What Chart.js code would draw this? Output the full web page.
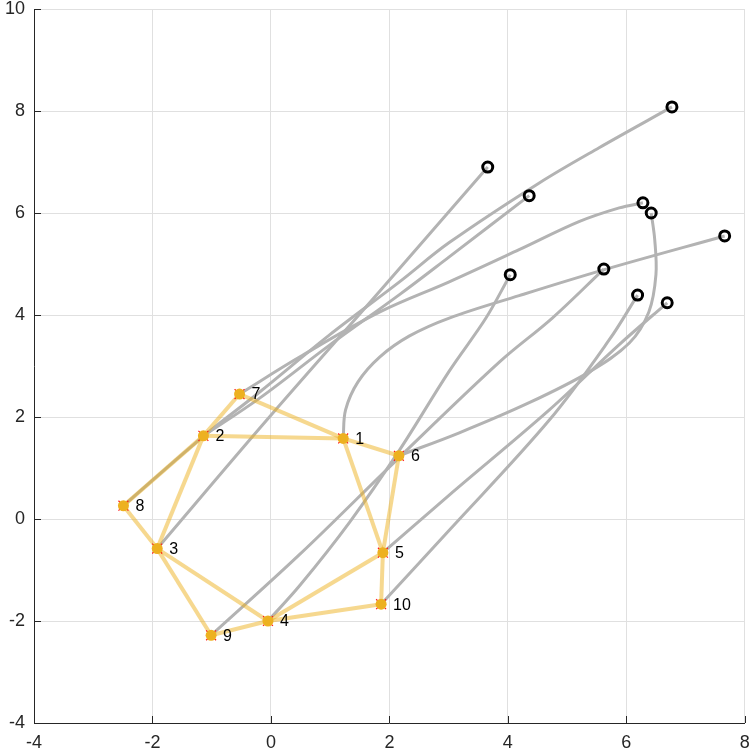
<!DOCTYPE html>
<html>
<head>
<meta charset="utf-8">
<script src="https://cdn.jsdelivr.net/npm/chart.js@4.4.1/dist/chart.umd.min.js"></script>
<style>
  html, body { margin: 0; padding: 0; background: #fff; }
</style>
</head>
<body>
<canvas id="chart" width="753" height="754"></canvas>
<script>
// node positions (start of each path)
var nodeLabels = ['1', '2', '3', '4', '5', '6', '7', '8', '9', '10'];
var nodeX = [1.22, -1.14, -1.92, -0.05, 1.89, 2.16, -0.53, -2.49, -1.01, 1.86];
var nodeY = [1.58, 1.63, -0.58, -2.00, -0.66, 1.24, 2.45, 0.26, -2.28, -1.67];

// graph edges (1-based node numbers)
var edgeFrom = [7, 7, 2, 2, 2, 8, 3, 3, 9, 4, 4, 5, 5, 5, 1];
var edgeTo   = [2, 1, 1, 3, 8, 3, 9, 4, 4, 5, 10, 10, 1, 6, 6];

// trajectories, one per node
var path1 = [[1.22, 1.58], [1.26, 2.14], [1.47, 2.69], [1.84, 3.18], [2.34, 3.59], [3.01, 3.94], [4.19, 4.38], [5.63, 4.89], [7.66, 5.55]];
var path2 = [[-1.14, 1.63], [-0.19, 2.37], [0.99, 3.41], [2.17, 4.40], [3.01, 5.14], [4.36, 6.34]];
var path3 = [[-1.92, -0.58], [-0.07, 1.94], [1.84, 4.47], [3.66, 6.90]];
var path4 = [[-0.05, -2.00], [0.49, -1.30], [1.33, -0.06], [2.17, 1.35], [3.01, 2.90], [3.63, 3.94], [4.04, 4.79]];
var path5 = [[1.89, -0.66], [3.01, 0.47], [4.70, 2.14], [5.88, 3.42], [6.69, 4.24]];
var path6 = [[2.16, 1.24], [3.18, 1.69], [4.36, 2.28], [5.37, 2.88], [6.05, 3.45], [6.38, 4.06], [6.50, 4.79], [6.48, 5.47], [6.42, 6.00]];
var path7 = [[-0.53, 2.45], [0.49, 3.18], [1.84, 4.06], [3.01, 4.65], [4.19, 5.28], [5.20, 5.83], [5.88, 6.10], [6.28, 6.20]];
var path8 = [[-2.49, 0.26], [-1.13, 1.63], [-0.19, 2.49], [0.99, 3.61], [2.17, 4.65], [3.01, 5.42], [4.53, 6.59], [5.54, 7.28], [6.77, 8.08]];
var path9 = [[-1.01, -2.28], [0.49, -0.69], [2.16, 1.20], [3.86, 3.08], [4.75, 3.94], [5.62, 4.90]];
var path10 = [[1.86, -1.67], [3.01, -0.22], [4.70, 1.94], [5.71, 3.51], [6.19, 4.39]];

var paths = [path1, path2, path3, path4, path5, path6, path7, path8, path9, path10];

var xTicks = [-4, -2, 0, 2, 4, 6, 8];
var yTicks = [-4, -2, 0, 2, 4, 6, 8, 10];

var FONT = '"Liberation Sans", Arial, Helvetica, sans-serif';
var GREY = '#b3b3b3';
var EDGE = 'rgba(237, 177, 32, 0.5)';
var ORANGE = '#edb120';

function toPts(p) {
    return p.map(function (q) { return {x: q[0], y: q[1]}; });
}

var datasets = [];

// grey trajectories
paths.forEach(function (p) {
    datasets.push({
        data: toPts(p),
        showLine: true,
        borderColor: GREY,
        borderWidth: 3,
        tension: 0.35,
        pointRadius: 0,
        order: 6
    });
});

// end markers
datasets.push({
    data: paths.map(function (p) { var e = p[p.length - 1]; return {x: e[0], y: e[1]}; }),
    showLine: false,
    pointStyle: 'circle',
    pointRadius: 5,
    pointBorderWidth: 3,
    pointBorderColor: '#000',
    pointBackgroundColor: 'rgba(0,0,0,0)',
    order: 5
});

// yellow edges
for (var i = 0; i < edgeFrom.length; i++) {
    var a = edgeFrom[i] - 1, b = edgeTo[i] - 1;
    datasets.push({
        data: [{x: nodeX[a], y: nodeY[a]}, {x: nodeX[b], y: nodeY[b]}],
        showLine: true,
        borderColor: EDGE,
        borderWidth: 4,
        pointRadius: 0,
        order: 4
    });
}

// red crosses behind orange dots
datasets.push({
    data: nodeX.map(function (v, k) { return {x: v, y: nodeY[k]}; }),
    showLine: false,
    pointStyle: 'crossRot',
    pointRadius: 7,
    pointBorderWidth: 1.2,
    pointBorderColor: '#ff1a1a',
    order: 3
});
datasets.push({
    data: nodeX.map(function (v, k) { return {x: v, y: nodeY[k]}; }),
    showLine: false,
    pointStyle: 'circle',
    pointRadius: 5.5,
    pointBorderWidth: 0,
    pointBackgroundColor: ORANGE,
    order: 2
});

// inward tick marks and node numbers
var overlay = {
    id: 'overlay',
    afterDatasetsDraw: function (chart) {
        var ctx = chart.ctx, x = chart.scales.x, y = chart.scales.y, area = chart.chartArea;
        ctx.save();
        ctx.strokeStyle = '#262626';
        ctx.lineWidth = 1;
        xTicks.forEach(function (t) {
            var px = Math.round(x.getPixelForValue(t)) + 0.5;
            ctx.beginPath();
            ctx.moveTo(px, area.bottom);
            ctx.lineTo(px, area.bottom - 7);
            ctx.stroke();
        });
        yTicks.forEach(function (t) {
            var py = Math.round(y.getPixelForValue(t)) + 0.5;
            ctx.beginPath();
            ctx.moveTo(area.left, py);
            ctx.lineTo(area.left + 7, py);
            ctx.stroke();
        });
        ctx.font = '16px ' + FONT;
        ctx.fillStyle = '#000';
        ctx.textBaseline = 'middle';
        ctx.textAlign = 'left';
        nodeLabels.forEach(function (s, k) {
            ctx.fillText(s, x.getPixelForValue(nodeX[k]) + 12, y.getPixelForValue(nodeY[k]) + 1);
        });
        ctx.restore();
    }
};

var ctx = document.getElementById('chart').getContext('2d');
var chart = new Chart(ctx, {
    type: 'scatter',
    data: {datasets: datasets},
    plugins: [overlay],
    options: {
        responsive: false,
        animation: false,
        devicePixelRatio: 1,
        layout: {padding: {left: 0, right: 7, top: 9, bottom: 0}},
        plugins: {legend: {display: false}, tooltip: {enabled: false}},
        scales: {
            x: {
                type: 'linear',
                min: -4, max: 8,
                afterBuildTicks: function (s) { s.ticks = xTicks.map(function (v) { return {value: v}; }); },
                afterFit: function (s) { s.height = 31; s.paddingLeft = 0; s.paddingRight = 0; },
                grid: {color: '#e0e0e0', drawTicks: false},
                border: {color: '#262626', width: 1},
                ticks: {color: '#262626', padding: 9, font: {family: FONT, size: 18}}
            },
            y: {
                type: 'linear',
                min: -4, max: 10,
                afterBuildTicks: function (s) { s.ticks = yTicks.map(function (v) { return {value: v}; }); },
                afterFit: function (s) { s.width = 34; s.paddingTop = 0; s.paddingBottom = 0; },
                grid: {color: '#e0e0e0', drawTicks: false},
                border: {color: '#262626', width: 1},
                ticks: {color: '#262626', padding: 9, font: {family: FONT, size: 18}}
            }
        }
    }
});
</script>
</body>
</html>
